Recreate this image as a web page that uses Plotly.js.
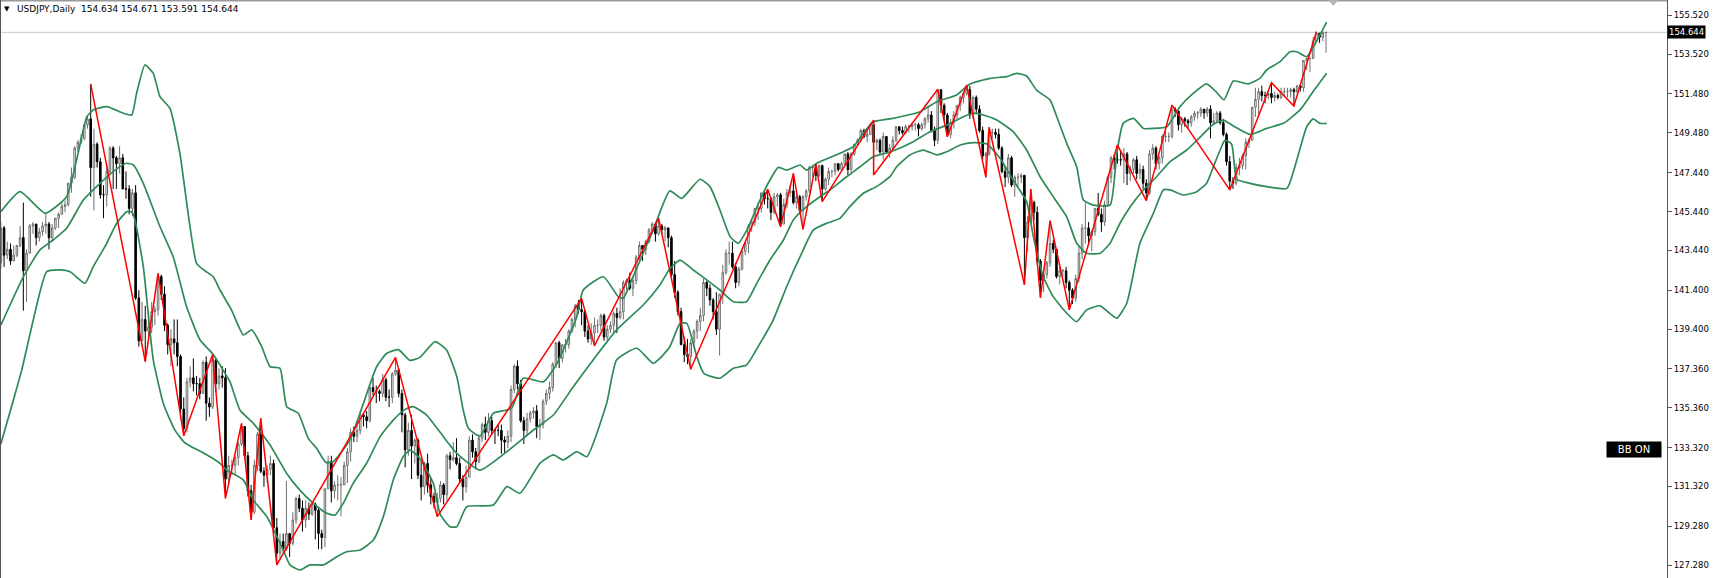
<!DOCTYPE html>
<html><head><meta charset="utf-8">
<script src="https://cdn.plot.ly/plotly-3.0.1.min.js"></script>
<style>html,body{margin:0;padding:0;background:#fff;overflow:hidden}#chart{width:1717px;height:578px}</style>
</head><body><div id="chart"></div>
<script>
// ---- data (USDJPY, Daily) ----
const symbolText = "USDJPY,Daily";
const lastOHLC = ["154.634", "154.671", "153.591", "154.644"];
const firstOpen = 142.8;
const highs = [
144.9,144.7,143.9,143.8,143.7,143.7,144.7,145.9,143.5,144.8,
144.9,144.8,144.6,144.9,145.3,144.9,144.8,145.1,145.4,145.9,
146.0,146.9,147.7,148.8,149.1,149.4,149.9,150.3,151.99,149.7,
149.0,148.2,146.8,147.9,148.8,148.8,148.3,148.8,148.4,147.5,
146.8,146.6,146.8,141.4,140.8,140.6,140.2,140.8,140.6,142.27,
142.2,141.6,139.7,139.4,139.9,139.9,138.1,135.9,136.9,137.5,
137.9,137.0,136.9,137.8,138.0,135.9,138.1,137.9,137.4,137.5,
137.4,132.9,132.7,132.9,133.6,134.56,134.4,133.1,131.4,132.7,
134.1,134.82,132.3,132.4,132.9,132.7,129.7,128.9,128.9,131.6,
128.9,130.0,130.8,130.9,130.6,130.6,130.5,130.5,130.5,130.2,
129.1,131.2,132.9,132.9,131.6,131.9,131.8,132.6,133.3,134.3,
134.4,134.7,135.2,135.0,135.2,136.5,136.9,136.5,136.3,137.1,
136.9,136.3,137.2,137.95,137.4,136.3,135.1,134.6,135.0,133.8,
133.8,132.7,132.6,133.0,131.8,131.0,131.0,131.6,131.5,133.0,
133.1,133.6,133.8,132.8,131.9,132.4,133.9,134.0,133.3,134.0,
134.6,134.9,135.1,134.9,134.3,134.5,134.5,133.9,134.2,136.5,
137.6,137.8,136.8,134.9,135.1,135.2,135.4,135.5,134.8,135.8,
136.3,136.7,137.7,138.7,138.8,138.6,138.9,139.4,140.0,140.7,
140.9,140.98,140.4,139.6,139.7,140.0,139.9,140.2,140.2,139.6,
139.8,140.3,140.5,141.5,141.9,142.0,142.3,142.1,143.2,143.9,
143.7,144.0,144.6,144.9,144.9,145.09,144.8,144.7,144.6,144.2,
142.9,141.4,140.5,139.0,138.9,138.9,139.4,139.9,140.5,142.0,
141.9,141.7,141.0,141.3,141.2,142.7,143.5,143.9,143.9,142.8,
142.6,143.5,143.9,144.8,145.0,145.6,145.9,146.4,146.5,146.58,
146.2,146.4,146.4,146.4,146.1,146.6,146.8,147.40,146.3,146.3,
146.3,146.6,147.8,147.8,147.88,147.85,147.85,147.2,147.7,147.6,
147.9,147.9,148.0,148.4,148.5,148.5,148.9,149.2,149.7,149.7,
149.7,150.0,150.14,149.2,149.2,149.5,149.3,148.9,149.3,149.8,
149.8,149.8,149.9,149.9,150.0,150.0,150.0,150.0,150.3,150.8,
150.6,149.8,151.72,151.7,151.0,150.5,150.2,150.6,150.9,151.4,
151.6,151.94,151.9,151.4,151.4,150.9,149.8,148.5,149.77,149.7,
149.7,149.7,148.8,147.8,148.4,148.3,147.3,147.4,147.4,147.3,
145.2,146.59,146.0,145.7,143.0,142.5,142.9,144.97,144.0,143.5,
142.6,142.5,142.6,141.9,141.5,142.2,143.7,144.8,145.9,144.9,
144.5,145.6,146.4,145.6,146.0,147.3,148.3,148.4,148.86,148.6,
148.7,148.5,147.8,148.2,148.3,147.9,147.8,147.1,148.6,148.9,
148.8,148.3,149.4,149.6,149.5,150.91,150.8,150.6,150.3,150.3,
150.2,150.4,150.6,150.6,150.8,150.7,150.8,150.9,150.5,150.6,
150.6,150.2,149.5,148.3,147.2,147.9,148.2,148.4,149.2,149.2,
150.8,151.8,151.8,151.9,151.6,151.6,152.06,151.6,151.5,151.8,
151.8,151.8,151.8,151.8,151.9,151.9,153.2,153.3,153.4,154.4,
154.68,154.6,154.7,154.671];
const lows = [
142.5,142.6,143.0,142.7,142.9,143.1,143.6,140.35,140.8,143.3,
144.3,143.7,143.9,144.2,144.3,143.5,143.9,144.5,144.6,145.3,
145.4,145.7,146.4,147.1,148.5,148.9,149.1,149.7,146.2,145.5,
147.7,146.1,145.1,145.7,147.4,146.6,146.6,147.4,146.6,146.1,
145.3,145.2,140.9,138.5,138.8,137.73,138.8,139.2,139.6,140.1,
140.9,139.3,138.1,137.5,138.1,137.5,134.8,133.92,134.1,136.4,
136.2,136.0,135.8,136.1,134.7,134.9,135.3,136.2,136.3,136.4,
130.71,131.4,131.9,131.9,132.4,133.4,132.7,130.8,129.60,129.9,
132.1,132.0,131.3,131.5,131.9,128.9,127.29,127.6,127.9,128.0,
127.7,128.3,129.4,130.0,129.0,129.2,129.6,129.8,128.6,128.1,
128.1,128.2,131.2,130.5,130.7,130.6,129.8,131.4,131.5,132.6,
133.6,133.6,134.0,134.4,134.3,134.6,136.0,135.6,135.7,135.9,
135.7,135.4,135.6,137.0,135.9,134.1,132.3,132.9,131.7,132.5,
131.7,130.6,130.9,131.0,130.4,130.2,129.77,130.5,130.4,130.6,
132.2,132.6,132.4,131.5,130.6,131.0,131.8,132.8,132.2,132.5,
133.6,133.7,133.9,134.0,133.5,133.9,133.0,133.0,133.3,133.6,
136.1,136.3,134.6,133.5,133.9,134.6,134.8,133.8,133.7,134.3,
135.5,135.8,136.2,137.4,137.4,137.7,138.2,138.4,139.2,139.5,
140.2,139.6,139.0,138.7,138.6,138.54,139.2,139.3,138.8,138.8,
139.2,139.2,139.2,139.9,139.9,141.4,141.4,141.1,141.7,142.9,
142.9,143.2,143.8,144.3,143.9,144.2,144.3,143.9,143.6,142.1,
141.0,140.1,138.6,137.7,137.6,137.34,138.5,138.9,139.3,139.8,
141.1,140.6,139.9,139.1,138.05,140.7,142.2,142.7,142.5,141.5,
141.6,142.4,143.2,143.3,144.4,144.7,145.0,145.4,145.8,145.6,
145.0,145.3,145.7,144.66,144.8,145.6,146.2,145.8,145.6,145.3,
144.52,146.0,146.4,147.2,147.0,147.2,145.95,146.5,146.8,147.2,
147.3,147.5,147.6,147.8,147.3,147.4,148.3,148.8,149.0,149.2,
149.0,149.4,147.32,148.6,148.4,148.1,148.4,148.2,148.6,149.0,
149.4,149.4,149.4,149.5,149.6,149.6,149.3,149.6,149.7,150.0,
149.5,148.8,148.9,150.5,150.1,149.28,149.2,149.7,150.2,150.6,
151.0,151.4,150.2,150.2,150.5,149.5,148.1,147.20,148.3,149.2,
149.2,148.6,147.4,146.7,146.9,146.7,146.2,146.7,146.9,141.67,
143.4,144.8,145.0,142.7,141.0,141.3,142.0,142.6,143.3,142.0,
141.7,142.1,141.5,140.39,140.7,140.8,141.8,143.0,143.8,143.7,
143.4,144.2,145.2,144.4,144.7,145.7,146.9,147.6,147.9,147.8,
146.9,146.8,147.0,147.4,147.1,147.1,146.6,146.00,146.3,148.1,
147.6,147.6,147.9,149.0,149.0,149.2,150.3,149.6,149.5,149.8,
149.7,149.8,150.1,150.2,150.3,150.2,150.3,149.2,149.9,150.0,
149.9,149.3,147.8,146.55,146.6,146.8,147.3,147.6,147.6,148.7,
149.1,150.3,150.3,151.1,151.0,151.2,151.0,151.1,151.2,151.2,
151.4,151.3,151.3,150.86,151.5,151.6,151.6,152.7,152.6,153.3,
154.1,154.1,154.2,153.591];
const closes = [
144.6,143.2,143.5,142.9,143.2,143.7,144.1,142.4,143.3,144.7,
144.8,144.1,144.4,144.7,144.8,144.1,144.6,145.1,145.3,145.7,
145.8,146.9,147.2,148.7,149.0,149.2,149.9,150.2,147.7,148.9,
148.0,146.3,146.3,147.5,148.7,148.2,147.9,148.2,146.6,146.6,
145.6,146.4,141.0,138.8,139.9,139.3,139.5,140.3,140.4,142.1,
141.2,139.6,138.6,138.9,138.7,138.0,135.3,134.3,136.7,136.9,
136.6,136.6,136.1,137.7,135.6,135.4,137.8,136.6,137.0,136.9,
131.7,132.4,132.4,132.8,133.5,134.4,132.9,131.1,130.0,132.4,
134.0,132.1,131.9,132.2,132.5,129.2,127.9,128.5,128.1,128.9,
128.4,129.6,130.7,130.2,129.6,130.2,129.9,130.4,130.1,128.9,
128.7,131.2,132.6,131.1,131.4,131.4,131.4,132.4,133.1,134.1,
133.9,134.2,135.0,134.9,134.7,136.4,136.2,136.2,136.1,136.8,
135.9,135.9,137.1,137.3,136.1,135.0,133.2,134.2,133.4,133.7,
131.9,131.3,132.5,131.4,130.8,130.5,130.7,131.4,130.9,132.9,
132.7,132.8,132.5,131.7,131.3,131.8,133.7,133.1,132.6,133.8,
134.5,134.1,134.7,134.2,134.2,134.2,133.7,133.6,133.9,136.3,
137.5,136.6,134.7,134.2,134.8,135.1,135.2,134.4,134.5,135.7,
136.1,136.4,137.6,138.7,137.9,138.6,138.6,139.3,139.9,140.6,
140.4,140.3,139.3,138.9,139.2,139.6,139.6,140.1,139.0,139.4,
139.6,140.2,140.0,140.3,141.8,141.9,141.5,141.9,143.1,143.7,
143.5,143.9,144.5,144.8,144.3,144.7,144.5,144.6,144.1,142.2,
141.3,140.3,138.6,138.1,138.0,138.7,139.3,139.8,140.1,141.8,
141.5,140.9,140.3,139.4,141.2,142.3,143.3,143.3,142.6,141.8,
142.5,143.4,143.8,144.7,144.9,145.6,145.6,146.4,146.1,146.1,
145.4,146.2,146.3,144.8,145.8,146.4,146.5,145.9,146.2,145.5,
146.2,146.5,147.7,147.7,147.3,147.8,146.6,147.1,147.5,147.5,
147.9,147.6,147.9,148.4,147.6,148.4,148.9,149.1,149.6,149.3,
149.4,149.9,149.0,149.1,148.5,149.3,148.5,148.7,149.1,149.8,
149.6,149.5,149.8,149.8,149.9,149.9,149.7,149.9,150.2,150.4,
149.6,149.1,151.7,150.9,150.4,149.4,150.0,150.4,150.9,151.3,
151.5,151.7,150.4,151.3,150.7,149.6,148.3,148.4,149.5,149.5,
149.4,148.7,147.5,147.2,148.2,146.8,147.2,147.2,147.3,144.1,
144.9,145.9,145.4,142.9,141.9,142.2,142.8,143.8,143.5,142.1,
142.4,142.4,141.8,141.4,141.0,142.0,143.3,144.6,144.6,144.2,
144.4,145.6,145.3,144.9,145.8,147.2,148.2,148.1,148.1,148.1,
148.4,147.4,147.6,148.1,147.4,147.6,146.9,146.4,148.4,148.7,
147.9,148.2,149.3,149.3,149.3,150.7,150.6,149.9,150.2,150.1,
150.0,150.3,150.5,150.5,150.7,150.5,150.7,150.0,150.1,150.5,
150.0,149.4,148.0,147.0,146.9,147.7,147.8,148.3,149.0,149.1,
150.8,151.2,151.6,151.4,151.4,151.5,151.3,151.4,151.3,151.6,
151.6,151.6,151.7,151.6,151.9,151.8,153.2,153.3,153.3,154.2,
154.6,154.4,154.634,154.644];

// Bollinger band readings (bar index, price)
const bbUpperIdx = [0,6,13.8,20.5,23.6,26.8,28.8,33.0,38.2,40.8,42.3,44.9,47.5,49.6,52.7,55.8,61.0,63.6,66.2,68.3,71.9,75.6,78.2,81.3,83.9,87.0,89.1,92.7,95.8,98.4,101.3,103.6,108.8,113.0,117.1,120.3,123.9,127.5,130.6,135.3,138.9,142.1,144.1,145.7,149.3,153.5,159.2,162.8,169.1,173.2,179.5,181.5,187.8,192.4,194.0,196.6,203.3,208.5,212.2,217.9,221.0,224.1,227.3,229.8,232.5,236.6,239.7,242.3,244.9,249.1,251.1,254.3,261.5,265.7,268.8,271.9,277.1,286.5,291.7,297.9,302.0,308.3,313.5,316.6,319.7,322.8,327.0,329.1,332.2,335.3,337.4,340.5,345.7,347.8,349.8,353.0,356.1,359.2,363.4,367.5,371.6,375.8,378.7,381.2,384.1,388.7,392.4,394.5,398.7,401.8,403.9,407.0,410.1,413.2];
const bbUpperVal = [145.43,146.46,145.35,146.20,148.09,150.31,150.66,150.83,150.49,150.40,151.51,152.97,152.54,151.34,150.74,148.43,142.78,142.40,142.09,141.41,140.38,139.10,139.36,138.50,137.47,137.39,135.42,135.08,133.79,133.28,132.55,132.60,133.71,135.59,137.47,138.16,138.35,137.80,137.95,138.76,138.33,136.96,135.25,134.31,133.90,135.08,135.34,136.88,136.70,137.60,140.04,141.41,142.09,141.07,140.98,141.93,144.49,146.50,146.12,147.10,146.72,145.52,144.15,143.81,144.49,146.03,147.06,147.71,147.57,147.83,147.57,147.92,148.43,148.77,149.46,150.05,150.20,150.57,151.08,151.43,151.99,152.28,152.37,152.54,152.40,151.68,151.17,150.31,148.94,147.74,146.03,145.77,145.77,148.43,149.97,150.23,149.71,149.71,149.80,150.83,151.51,152.00,151.60,151.17,152.15,152.00,152.28,152.71,153.14,153.65,153.65,153.39,154.20,155.17];
const bbMidIdx = [0,7.0,12.2,16.3,20.5,25.7,30.9,35.6,39.2,41.3,44.4,49.6,53.7,57.9,62.1,66.2,68.9,71.4,74.5,78.7,83.9,89.1,93.2,97.4,101.6,104.1,106.7,109.8,114.0,118.2,122.3,126.0,128.5,132.7,136.9,142.1,149.3,157.7,166.0,172.2,178.4,184.6,191.9,200.2,205.4,208.5,211.7,215.8,220.0,224.1,228.3,232.4,235.6,239.7,243.9,247.0,251.1,255.3,258.4,263.6,267.8,271.9,277.1,284.4,289.6,294.8,300.0,303.1,306.2,310.4,315.5,319.7,323.9,328.0,332.2,335.3,338.4,342.6,345.7,348.8,352.0,356.1,360.2,364.4,369.6,373.7,377.9,381.0,384.1,389.3,394.5,399.7,404.9,409.0,413.2];
const bbMidVal = [139.61,142.09,143.47,143.98,144.58,146.03,146.89,147.57,147.92,147.83,146.89,144.66,143.12,140.55,138.84,138.1,137.4,136.7,135.25,134.56,133.45,131.99,131.13,130.45,129.94,129.85,130.45,131.48,132.51,133.88,134.73,135.28,135.42,134.99,134.1,133.02,132.16,133.11,134.22,134.99,136.44,137.82,139.36,140.64,141.67,142.5,142.95,142.44,141.93,141.41,140.81,140.81,141.76,142.95,143.98,145.01,145.69,146.20,146.55,147.23,147.74,148.26,148.5,149.03,149.54,149.88,150.31,150.49,150.40,150.14,149.54,148.60,147.23,146.20,145.17,143.81,143.30,143.30,143.81,144.84,145.69,146.55,147.23,148.00,148.60,149.25,149.92,150.14,149.84,149.4,149.71,149.97,150.66,151.6,152.54];
const bbLowerIdx = [0,6.5,10.1,14.3,18.4,21.6,26.2,28.8,33.0,36.1,39.2,40.8,41.8,44.4,47.5,50.8,54.3,57.1,59.0,63.6,68.3,70.4,75.6,78.7,82.9,88.0,90.1,93.2,96.3,100.5,104.7,107.8,112.0,116.1,119.2,122.3,125.4,127.5,130.6,134.8,136.9,140.0,142.1,145.2,153.5,157.7,161.8,168.0,172.2,175.3,179.5,182.6,188.8,191.9,198.2,203.3,205.4,208.5,211.7,213.8,216.9,219.1,224.1,228.3,232.4,236.6,240.7,244.9,249.1,253.2,257.4,261.5,264.6,268.8,272.9,277.1,279.2,283.3,287.5,291.7,294.8,299.0,303.1,307.3,311.4,315.5,319.7,321.8,324.9,328.0,332.2,335.3,338.4,342.6,345.7,347.8,350.9,355.0,359.2,362.3,364.4,368.5,372.7,375.8,377.8,380.0,381.5,383.6,385.2,389.3,394.5,400.8,403.9,407.0,409.0,411.1,413.2];
const bbLowerVal = [133.5,137.30,139.87,142.35,142.44,142.35,141.76,142.61,143.81,144.84,145.43,145.43,145.01,142.61,137.82,135.5,134.2,133.6,133.4,133.0,132.51,132.16,131.65,130.62,129.77,128.06,127.29,127.03,127.29,127.29,127.71,127.97,128.06,128.57,129.77,131.65,132.85,133.19,132.76,131.48,129.9,129.25,129.25,130.28,130.37,131.31,130.97,132.51,132.94,132.68,133.11,132.85,135.59,137.82,138.42,137.64,137.9,138.5,139.70,139.70,137.99,137.13,136.88,137.39,137.56,138.67,139.87,141.58,143.12,144.49,144.84,145.09,145.69,146.38,146.72,147.23,147.74,148.35,148.60,148.35,148.51,148.86,148.98,148.91,148.18,147.06,145.95,144.15,142.09,141.07,140.22,139.78,140.39,140.6,140.2,139.96,140.73,143.81,145.35,146.55,146.55,146.29,146.46,146.9,147.7,148.6,149.11,148.9,147.1,146.89,146.72,146.63,148.09,149.8,150.2,149.97,149.97];

// ZigZag pivots (bar index, price)
const zzIdx = [28,45,49,57,66,70,75,78,81,86,123,136,181,185,205,215,239,243,247,250,254,256,272,272,292,295,301,307,308,319,321,324,327,333,348,357,365,383,396,403,410];
const zzVal = [151.99,137.73,142.27,133.92,138.1,130.71,134.56,129.60,134.82,127.29,137.95,129.77,140.98,138.54,145.09,137.34,146.58,144.66,147.40,144.52,147.88,145.95,150.14,147.32,151.72,149.28,151.94,147.20,149.77,141.67,146.59,141.0,144.97,140.39,148.86,146.00,150.91,146.55,152.06,150.86,154.68];

// Right price scale labels
const tickValues = [155.52,153.52,151.48,149.48,147.44,145.44,143.44,141.40,139.40,137.36,135.36,133.32,131.32,129.28,127.28];
const tickLabels = ["155.520","153.520","151.480","149.480","147.440","145.440","143.440","141.400","139.400","137.360","135.360","133.320","131.320","129.280","127.280"];

// ---- chart ----
const barIdx = closes.map((_, i) => i);
const opens = closes.map((c, i) => i === 0 ? firstOpen : closes[i - 1]);
const lastClose = parseFloat(lastOHLC[3]);
const green = '#2E8B57';

const traces = [
  { type: 'candlestick', x: barIdx, open: opens, high: highs, low: lows, close: closes,
    increasing: { line: { color: '#6e6e6e', width: 1 }, fillcolor: '#ffffff' },
    decreasing: { line: { color: '#000000', width: 1 }, fillcolor: '#000000' },
    whiskerwidth: 0, hoverinfo: 'skip', showlegend: false },
  { type: 'scatter', mode: 'lines', x: bbUpperIdx, y: bbUpperVal, line: { color: green, width: 1.7, shape: 'spline', smoothing: 0.5 }, hoverinfo: 'skip' },
  { type: 'scatter', mode: 'lines', x: bbMidIdx, y: bbMidVal, line: { color: green, width: 1.7, shape: 'spline', smoothing: 0.5 }, hoverinfo: 'skip' },
  { type: 'scatter', mode: 'lines', x: bbLowerIdx, y: bbLowerVal, line: { color: green, width: 1.7, shape: 'spline', smoothing: 0.5 }, hoverinfo: 'skip' },
  { type: 'scatter', mode: 'lines', x: zzIdx, y: zzVal, line: { color: '#FF0000', width: 1.5 }, hoverinfo: 'skip' }
];

const layout = {
  width: 1717, height: 578,
  margin: { l: 0, r: 50, t: 0, b: 0, pad: 0 },
  paper_bgcolor: '#ffffff', plot_bgcolor: '#ffffff',
  showlegend: false, boxgap: 0.3,
  xaxis: { range: [-0.268, 519.28], showgrid: false, zeroline: false, showticklabels: false,
           ticks: '', showline: false, rangeslider: { visible: false }, fixedrange: true },
  yaxis: { side: 'right', range: [126.619, 156.306], tickmode: 'array', tickvals: tickValues, ticktext: tickLabels,
           showgrid: false, zeroline: false, showline: true, linecolor: '#555555', linewidth: 1,
           ticks: 'outside', ticklen: 4, tickwidth: 1, tickcolor: '#555555',
           tickfont: { family: 'DejaVu Sans', size: 8.5, color: '#000000' }, fixedrange: true },
  shapes: [
    { type: 'line', xref: 'paper', yref: 'y', x0: 0, x1: 1, y0: lastClose, y1: lastClose,
      line: { color: '#c8c8c8', width: 1 }, layer: 'below' },
    { type: 'line', xref: 'paper', yref: 'paper', x0: 0, x1: 1, y0: 1, y1: 1,
      line: { color: '#9a9a9a', width: 3 } },
    { type: 'line', xref: 'paper', yref: 'paper', x0: 0, x1: 0, y0: 0, y1: 1,
      line: { color: '#555555', width: 2 } },
    { type: 'path', xref: 'x', yref: 'paper', xsizemode: 'pixel', ysizemode: 'pixel',
      xanchor: closes.length + 1.3, yanchor: 1,
      path: 'M -5,0 L 5,0 L 0,-6 Z', fillcolor: '#b4b4b4', line: { width: 0 } }
  ],
  annotations: [
    { text: '\u25BC', xref: 'paper', yref: 'paper', x: 2 / 1667, y: 1 - 9.5 / 578, xanchor: 'left', yanchor: 'middle',
      showarrow: false, font: { family: 'DejaVu Sans', size: 7, color: '#000000' } },
    { text: symbolText + '\u00a0\u00a0' + lastOHLC.join(' '), xref: 'paper', yref: 'paper',
      x: 15 / 1667, y: 1 - 9.5 / 578, xanchor: 'left', yanchor: 'middle', showarrow: false,
      font: { family: 'DejaVu Sans', size: 9, color: '#000000' } },
    { text: lastOHLC[3], xref: 'paper', yref: 'y', x: 1, y: lastClose, xanchor: 'left', yanchor: 'middle',
      xshift: 0, showarrow: false, bgcolor: '#000000', borderpad: 1,
      font: { family: 'DejaVu Sans', size: 8.5, color: '#ffffff' } },
    { text: 'BB ON', xref: 'paper', yref: 'y', x: 1662 / 1667, y: 133.22, xanchor: 'right', yanchor: 'middle',
      showarrow: false, bgcolor: '#000000', borderpad: 2, width: 50, height: 11, align: 'center',
      font: { family: 'DejaVu Sans', size: 10, color: '#ffffff' } }
  ]
};

Plotly.newPlot('chart', traces, layout, { staticPlot: true, displayModeBar: false });
</script>
</body></html>
